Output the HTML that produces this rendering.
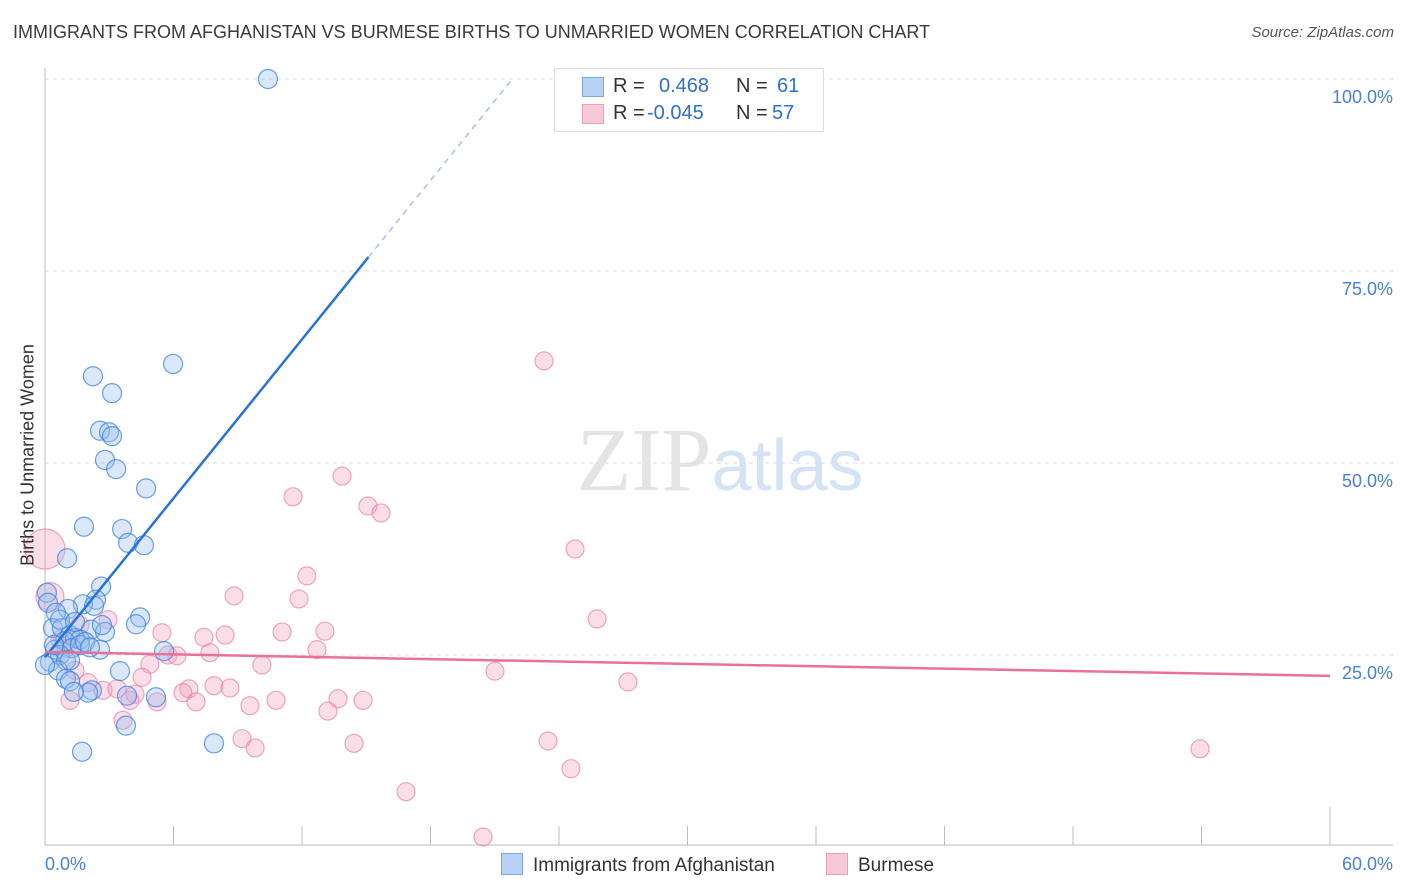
<!DOCTYPE html>
<html><head><meta charset="utf-8"><style>
body{margin:0;background:#fff;font-family:"Liberation Sans",sans-serif;}
#wrap{position:relative;width:1406px;height:892px;overflow:hidden;}
.t{position:absolute;white-space:nowrap;}
</style></head><body>
<div id="wrap">
<div class="t" style="left:13px;top:22px;font-size:18px;color:#3a3a3a;">IMMIGRANTS FROM AFGHANISTAN VS BURMESE BIRTHS TO UNMARRIED WOMEN CORRELATION CHART</div>
<div class="t" style="right:12px;top:24px;font-size:15px;color:#555;font-style:italic;">Source: ZipAtlas.com</div>
<svg id="svg" width="1406" height="892" style="position:absolute;left:0;top:0"></svg>
</div>
<script>
const blueX=[10.41,5.98,2.24,3.13,2.57,2.99,3.13,2.80,3.32,4.72,1.82,3.60,3.88,4.62,1.03,2.62,0.09,0.14,2.38,1.77,2.29,1.07,0.51,4.44,4.25,0.37,0.79,2.15,2.80,2.66,1.17,1.40,1.63,0.93,0.47,1.26,1.63,0.70,0.23,0.98,5.56,3.50,0.61,0.98,1.17,2.19,2.01,1.35,3.83,5.18,3.78,7.89,1.73,0.42,1.87,0.70,1.40,2.57,0.0,1.17,2.10];
const blueY=[100,62.9,61.3,59.1,54.2,54.0,53.5,50.4,49.2,46.7,41.7,41.4,39.6,39.3,37.6,33.9,33.1,31.8,32.2,31.6,31.4,31.0,30.5,29.9,29.0,28.5,28.5,28.3,28.0,28.9,27.6,27.2,27.0,26.8,25.7,25.9,26.3,25.0,24.1,24.3,25.5,22.9,23.0,21.9,21.6,20.4,20.1,20.2,19.7,19.5,15.8,13.5,12.4,26.3,26.7,29.6,29.3,25.7,23.7,24.3,26.0];
const pinkX=[23.30,13.87,11.58,15.08,15.69,24.75,12.23,8.83,11.86,25.78,2.94,5.46,7.42,8.41,11.07,13.07,12.70,5.74,6.16,7.70,4.90,10.13,21.01,4.53,2.01,27.22,7.89,8.64,6.72,6.44,2.71,3.36,4.20,3.97,5.23,7.05,10.79,13.68,14.85,9.57,13.21,3.64,9.20,9.81,14.43,23.49,53.93,24.56,16.86,20.45,0,0.23,1.40,1.63,1.17,0.70,0.98];
const pinkY=[63.3,48.3,45.6,44.4,43.5,38.8,35.3,32.7,32.3,29.7,29.6,27.9,27.3,27.6,28.0,28.1,25.7,25.0,24.9,25.3,23.8,23.7,22.9,22.1,21.4,21.5,21.0,20.7,20.6,20.1,20.4,20.6,19.9,19.1,18.9,18.9,19.1,19.3,19.1,18.4,17.7,16.5,14.1,12.9,13.5,13.8,12.8,10.2,7.2,1.3,38.8,32.6,23.0,28.9,19.1,27.0,25.9];
const pinkR=[9,9,9,9,9,9,9,9,9,9,9,9,9,9,9,9,9,9,9,9,9,9,9,9,9,9,9,9,9,9,9,9,9,9,9,9,9,9,9,9,9,9,9,9,9,9,9,9,9,9,20,14,9,9,9,9,9];
const yTicks=[25,50,75,100];
const xTicks=[0,6,12,18,24,30,36,42,48,54,60];
const blueLine=[24.7,3.45]; // intercept, slope
const pinkLine=[25.4,-0.052];
const sx=v=>45+v*1285/60, sy=v=>847-v*7.68;
const svg=document.getElementById('svg');const NS='http://www.w3.org/2000/svg';
function mk(tag,attrs,parent){const e=document.createElementNS(NS,tag);for(const k in attrs)e.setAttribute(k,attrs[k]);(parent||svg).appendChild(e);return e;}
yTicks.forEach(v=>{const l=mk('line',{x1:45,x2:1393,y1:sy(v),y2:sy(v),stroke:'#dcdcdc','stroke-dasharray':'4,4'});


const t=mk('text',{x:1393,y:sy(v)+24,'text-anchor':'end','font-size':18,fill:'#4a7fd4','font-family':'Liberation Sans'});t.textContent=v.toFixed(1)+'%';

});
const wm=mk('text',{x:720,y:490,'text-anchor':'middle','font-size':90,fill:'#e4e4e4','font-family':'Liberation Serif'});wm.innerHTML='ZIP<tspan fill="#d6e3f5" font-family="Liberation Sans" font-size="72">atlas</tspan>';


const ax=mk('line',{x1:45,x2:1393,y1:845,y2:845,stroke:'#bbb'});


const ay=mk('line',{x1:45,x2:45,y1:68,y2:845,stroke:'#bbb'});


xTicks.forEach((v,i)=>{if(i==0)return;const tk=mk('line',{x1:sx(v),x2:sx(v),y1:i==xTicks.length-1?807:826,y2:845,stroke:'#bbb'});

});
[[0,'0.0%','start',45],[60,'60.0%','end',1393]].forEach(a=>{const t=mk('text',{x:a[3],y:870,'text-anchor':a[2],'font-size':18,fill:'#4a7fd4','font-family':'Liberation Sans'});t.textContent=a[1];

});
pinkX.forEach((x,i)=>{const c=mk('circle',{cx:sx(x),cy:sy(pinkY[i]),r:pinkR[i],fill:'rgba(244,160,190,0.35)',stroke:'rgba(232,130,165,0.7)','stroke-width':1.2});

});
blueX.forEach((x,i)=>{const c=mk('circle',{cx:sx(x),cy:sy(blueY[i]),r:9.5,fill:'rgba(150,190,240,0.35)',stroke:'rgba(60,130,220,0.75)','stroke-width':1.2});

});
const bs=mk('line',{x1:sx(0),y1:sy(blueLine[0]),x2:sx(15.1),y2:sy(blueLine[0]+blueLine[1]*15.1),stroke:'#2a72d8','stroke-width':2.5});


const bd=mk('line',{x1:sx(15.1),y1:sy(blueLine[0]+blueLine[1]*15.1),x2:sx(21.8),y2:sy(blueLine[0]+blueLine[1]*21.8),stroke:'#8fb4e8','stroke-width':1.2,'stroke-dasharray':'6,5'});


const pl=mk('line',{x1:sx(0),y1:sy(pinkLine[0]),x2:sx(60),y2:sy(pinkLine[0]+pinkLine[1]*60),stroke:'#e8709a','stroke-width':2.5});


</script>
<div class="t" style="left:28px;top:455px;font-size:18px;color:#333;transform:translate(-50%,-50%) rotate(-90deg);">Births to Unmarried Women</div>
<div style="position:absolute;left:554px;top:68px;width:268px;height:62px;border:1px solid #ddd;background:#fff;font-size:20px;">
 <div style="position:absolute;left:27px;top:8px;width:20px;height:18px;background:#b8d2f5;border:1px solid #7aa8e6;"></div>
 <div class="t" style="left:58px;top:6px;color:#333">R = </div><div class="t" style="left:104px;top:6px;color:#2f6fd0">0.468</div>
 <div class="t" style="left:181px;top:6px;color:#333">N = </div><div class="t" style="left:222px;top:6px;color:#2f6fd0">61</div>
 <div style="position:absolute;left:27px;top:35px;width:20px;height:18px;background:#f8c8d8;border:1px solid #eea0bb;"></div>
 <div class="t" style="left:58px;top:33px;color:#333">R = </div><div class="t" style="left:92px;top:33px;color:#2f6fd0">-0.045</div>
 <div class="t" style="left:181px;top:33px;color:#333">N = </div><div class="t" style="left:217px;top:33px;color:#2f6fd0">57</div>
</div>
<div style="position:absolute;left:501px;top:853px;font-size:19px;color:#333;">
 <span style="display:inline-block;width:20px;height:20px;background:#b8d2f5;border:1px solid #7aa8e6;vertical-align:-4px;margin-right:10px;"></span>Immigrants from Afghanistan</div>
<div style="position:absolute;left:826px;top:853px;font-size:19px;color:#333;">
 <span style="display:inline-block;width:20px;height:20px;background:#f8c8d8;border:1px solid #eea0bb;vertical-align:-4px;margin-right:10px;"></span>Burmese</div>
</body></html>
